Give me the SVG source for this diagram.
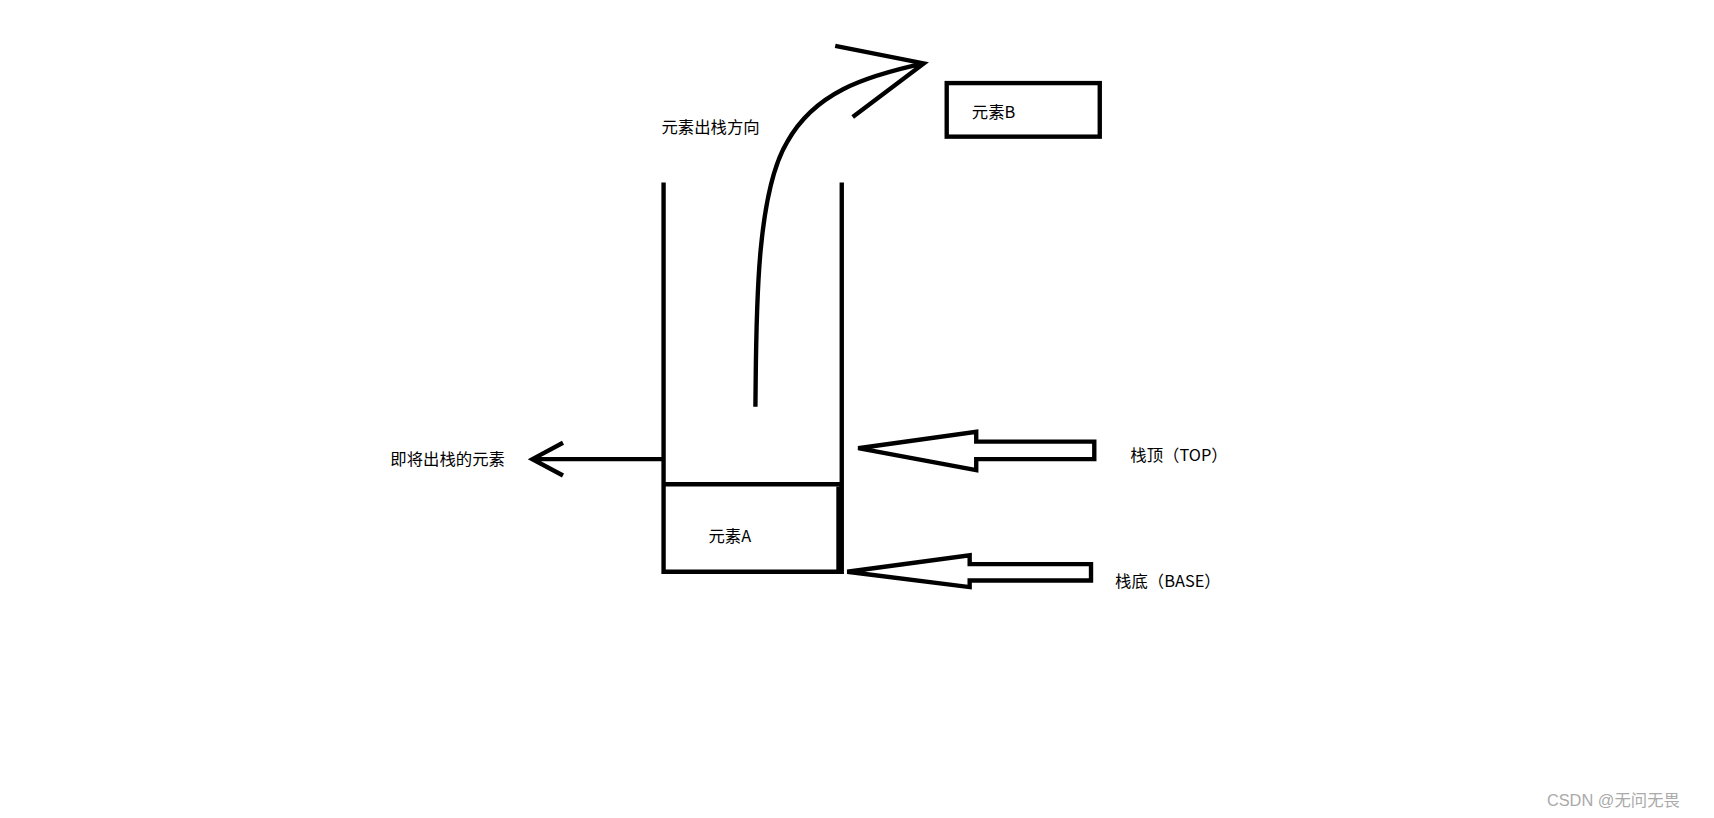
<svg xmlns="http://www.w3.org/2000/svg" width="1714" height="818" viewBox="0 0 1714 818">
<style>
.s{fill:none;stroke:#000;stroke-width:4;stroke-linejoin:miter}
.t{font-family:"Noto Sans CJK SC","Liberation Sans",sans-serif;font-size:15px;fill:#000}
</style>
<rect width="1714" height="818" fill="#fff"/>
<g transform="scale(1.0932)">
<g id="stack">
<path class="s" d="M607,167 V523 H770 V443 M770,167 V443 M607,443 H770"/>
<path d="M768,445 V523" stroke="#000" stroke-width="6"/>
</g>
<g id="elemA"><text class="t" x="648" y="496">元素A</text></g>
<g id="elemB"><rect class="s" x="866" y="76" width="140" height="49"/><text class="t" x="889" y="108">元素B</text></g>
<g id="labels">
<text class="t" x="605" y="122">元素出栈方向</text>
<text class="t" x="357" y="425">即将出栈的元素</text>
<text class="t" x="1034" y="422">栈顶（TOP）</text>
<text class="t" x="1020" y="537">栈底（BASE）</text>
</g>
<g id="connectors">
<path class="s" d="M607,420 H487 M515,405 L487,420 L515,435"/>
<path class="s" d="M691,372 C692,300 690,180 720,130 C745,85 790,70 845,58 M764,42 L845,58 L780,107"/>
<path class="s" d="M785,410 L893,395 V404 H1001 V420 H893 V430 Z"/>
<path class="s" d="M775,523 L887,508 V516 H998 V531 H887 V537 Z"/>
</g>
<text x="1415" y="737" font-family="Liberation Sans,sans-serif" font-size="15" fill="#aaa">CSDN @<tspan font-family="Noto Sans CJK SC,sans-serif">无问无畏</tspan></text>
</g>
</svg>
